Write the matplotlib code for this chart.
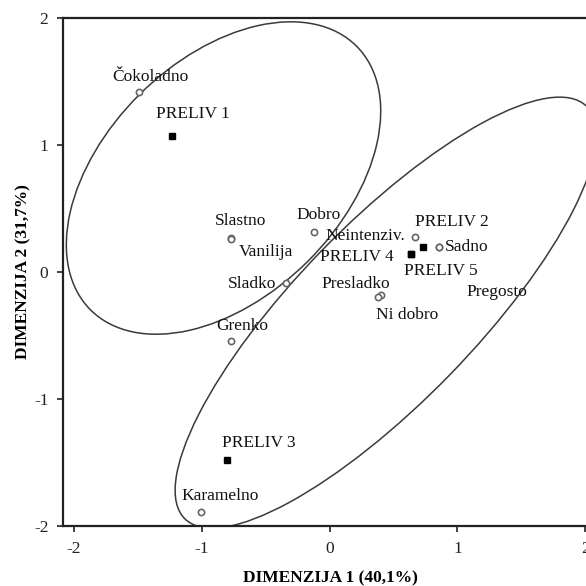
import matplotlib
matplotlib.use("Agg")
import matplotlib.pyplot as plt
from matplotlib.patches import Ellipse

plt.rcParams["font.family"] = ["Liberation Serif", "DejaVu Serif"]
plt.rcParams["axes.unicode_minus"] = False

# atributi (krogci)
atributi = ["Čokoladno", "Slastno", "Vanilija", "Sladko", "Dobro", "Neintenziv.",
            "Sadno", "Pregosto", "Presladko", "Ni dobro", "Grenko", "Karamelno"]
atr_x = [-1.495, -0.775, -0.770, -0.345, -0.125, 0.665, 0.853, 0.853, 0.400, 0.375, -0.775, -1.010]
atr_y = [1.420, 0.268, 0.262, -0.087, 0.316, 0.276, 0.197, 0.197, -0.180, -0.200, -0.545, -1.890]

# prelivi (kvadratki)
prelivi = ["PRELIV 1", "PRELIV 2", "PRELIV 3", "PRELIV 4", "PRELIV 5"]
pre_x = [-1.23, 0.728, -0.80, 0.634, 0.634]
pre_y = [1.07, 0.197, -1.48, 0.142, 0.142]

# elipse: center x, center y, sirina, visina, kot
elipse = [(-0.830, 0.740, 2.94, 1.86, 45), (0.440, -0.320, 4.52, 1.40, 46)]

# zamiki oznak v pikslih
zamik_atr = {"Čokoladno": (12, 15), "Slastno": (10, 17), "Vanilija": (35, -13),
             "Sladko": (-33, -1), "Dobro": (5, 17), "Neintenziv.": (-49, 1),
             "Sadno": (28, 0), "Pregosto": (58, -45), "Presladko": (-25, 11),
             "Ni dobro": (30, -18), "Grenko": (12, 15), "Karamelno": (20, 16)}
zamik_pre = {"PRELIV 1": (20, 22), "PRELIV 2": (29, 25), "PRELIV 3": (31, 17),
             "PRELIV 4": (-54, -3), "PRELIV 5": (30, -17)}

fig = plt.figure(figsize=(5.86, 5.86), dpi=100)
ax = fig.add_axes([63 / 586, 1 - 526 / 586, 535 / 586, 508 / 586])
ax.set_xlim(-2.086, 2.1)
ax.set_ylim(-2, 2)

for cx, cy, w, h, kot in elipse:
    ax.add_patch(Ellipse((cx, cy), w, h, angle=kot, fill=False,
                         edgecolor="#3a3a3a", linewidth=1.1))

ax.plot(atr_x, atr_y, "o", markersize=4.5, markerfacecolor="white",
        markeredgecolor="#666666", markeredgewidth=1.2, linestyle="none")
ax.plot(pre_x, pre_y, "s", markersize=4.5, color="black", linestyle="none")

for ime, x, y in zip(atributi, atr_x, atr_y):
    ax.annotate(ime, (x, y), xytext=zamik_atr[ime], textcoords="offset pixels",
                ha="center", va="center", fontsize=12.5, color="#111111")
for ime, x, y in zip(prelivi, pre_x, pre_y):
    ax.annotate(ime, (x, y), xytext=zamik_pre[ime], textcoords="offset pixels",
                ha="center", va="center", fontsize=12.5, color="#111111")

ax.set_xticks([-2, -1, 0, 1, 2])
ax.set_yticks([-2, -1, 0, 1, 2])
ax.tick_params(direction="out", length=4, width=1.2, pad=6.5,
               labelsize=12.5, colors="#222222")
for s in ["left", "bottom", "top"]:
    ax.spines[s].set_linewidth(1.6)
    ax.spines[s].set_color("#222222")
ax.spines["right"].set_visible(False)

ax.set_xlabel("DIMENZIJA 1 (40,1%)", fontsize=12.5, fontweight="bold", labelpad=10)
ax.set_ylabel("DIMENZIJA 2 (31,7%)", fontsize=12.5, fontweight="bold", labelpad=2)

fig.savefig("out.png", dpi=100)
